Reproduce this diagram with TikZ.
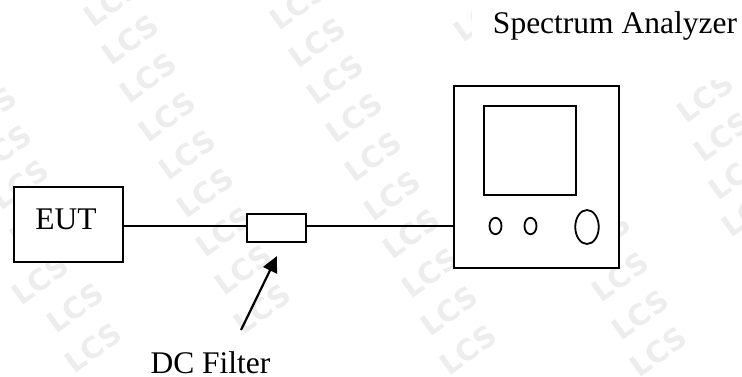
\documentclass[tikz,border=0pt]{standalone}
\usepackage{fontspec}
\setmainfont{Liberation Serif}
\newfontfamily\wmfont{DejaVu Sans}
\usetikzlibrary{arrows.meta,shapes.geometric}
\tikzset{
  wmark/.style={rotate=36,text=black!7,inner sep=0pt,font=\wmfont\bfseries\fontsize{29}{32}\selectfont},
  patch/.style={fill=white,draw=none},
  box/.style={draw=black,line width=2pt,fill=white,rectangle,inner sep=0pt},
  knob/.style={draw=black,line width=1.8pt,fill=none,ellipse,inner sep=0pt},
  lbl/.style={inner sep=0pt,anchor=base,text=black,font=\fontsize{31.5}{36}\selectfont},
  wire/.style={draw=black,line width=2pt},
  pointer/.style={draw=black,line width=2.2pt,-{Triangle[length=16pt,width=15pt]}}
}
\begin{document}
\begin{tikzpicture}[x=1pt,y=-1pt]
\useasboundingbox (0,0) rectangle (742,376);
\fill[white] (0,0) rectangle (742,376);
% faint watermark
\foreach \wx/\wy [count=\wi] in {112/2,130/40,148/78,167/117,187/155,205/193,224/232,243/270,262/309,
  298/5,317/43,335/80,354/118,373/157,392/196,411/234,430/273,449/311,468/350,
  482/17,602/238,620/277,640/315,658/352,
  705/98,722/137,737/175,750/212,
  -12/112,3/150,20/185,38/223,40/280,75/308,93/348}
  \node[wmark] (wm\wi) at (\wx,\wy) {LCS};
\fill[patch] (472,0) rectangle (742,80);
\fill[patch] (136,333) rectangle (330,376);
\fill[patch] (619,80) rectangle (654,190);
% instruments
\node[box,minimum width=109pt,minimum height=75pt] (eut) at (68.5,224.5) {};
\node[box,minimum width=59.5pt,minimum height=27.5pt] (filter) at (276.25,227.75) {};
\node[box,minimum width=165pt,minimum height=182pt] (sa) at (536.5,177) {};
\node[box,minimum width=92pt,minimum height=89.5pt] (screen) at (530,150.25) {};
\node[knob,minimum width=12pt,minimum height=16.5pt] (k1) at (495.5,226) {};
\node[knob,minimum width=12pt,minimum height=16.5pt] (k2) at (530.5,226) {};
\node[knob,minimum width=23.5pt,minimum height=34pt] (k3) at (587,227) {};
% labels
\node[lbl] (euttext) at (66,229) {EUT};
\node[lbl] (dctext) at (210.5,373) {DC Filter};
\node[lbl] (satext) at (615,33) {Spectrum Analyzer};
% connectors
\coordinate (wireline) at (300,226);
\draw[wire] (eut.east |- wireline) -- (filter.west |- wireline);
\draw[wire] (filter.east |- wireline) -- (sa.west |- wireline);
\coordinate (tail) at (241,330);
\coordinate (tip) at (277,256);
\draw[pointer] (tail) -- (tip);
\end{tikzpicture}
\end{document}
